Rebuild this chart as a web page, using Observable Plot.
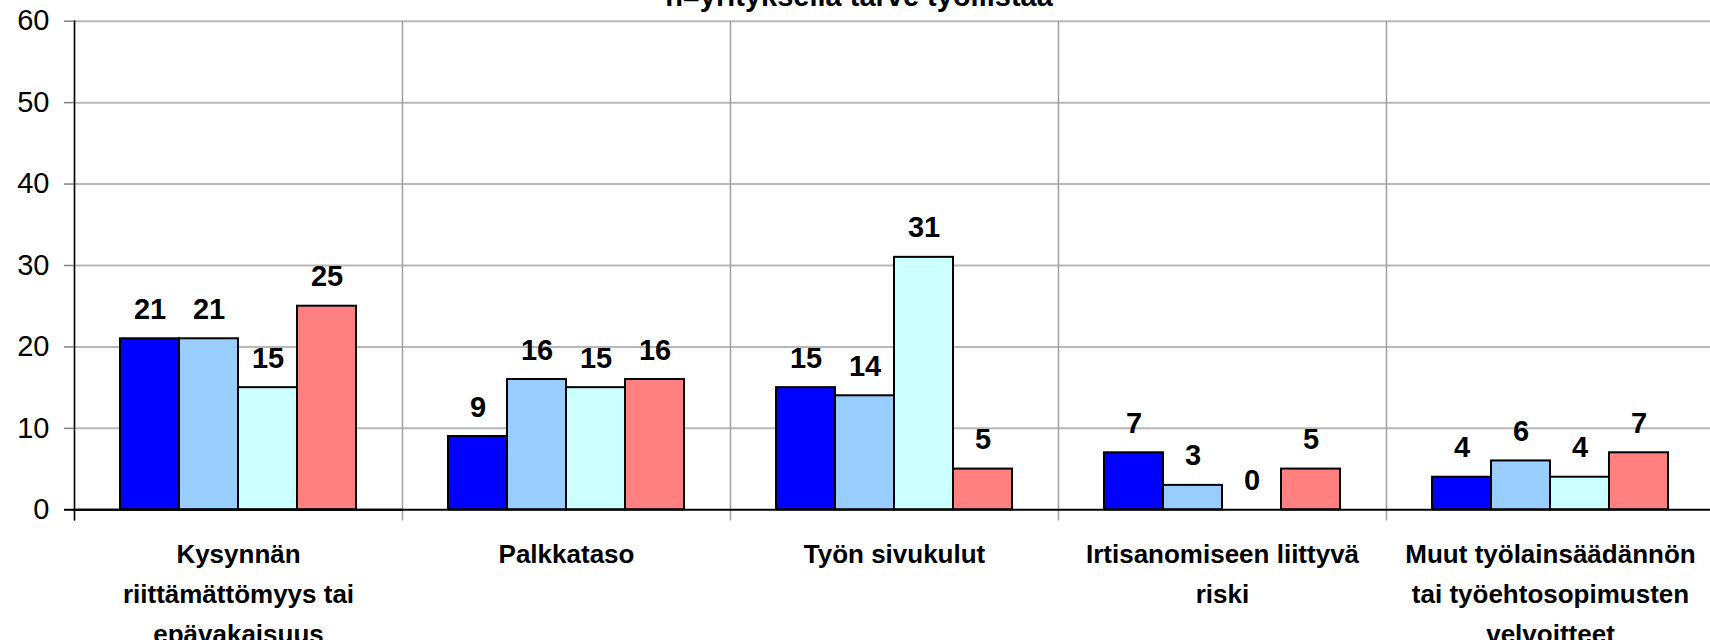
<!DOCTYPE html>
<html>
<head>
<meta charset="utf-8">
<script src="https://cdn.jsdelivr.net/npm/d3@7"></script>
<script src="https://cdn.jsdelivr.net/npm/@observablehq/plot@0.6"></script>
<style>
  html, body { margin: 0; padding: 0; background: #ffffff; overflow: hidden; }
  #wrap { position: relative; width: 1710px; height: 640px; }
  #title { position: absolute; left: 0; width: 1718px; top: -18px; text-align: center;
    font-family: "Liberation Sans", Arial, sans-serif; font-weight: bold; font-size: 29px; line-height: 29px; color: #000; }
  #chart { position: absolute; left: 0; top: 0; }
</style>
</head>
<body>
<div id="wrap">
  <div id="chart"></div>
  <div id="title">n=yrityksellä tarve työllistää</div>
</div>
<script>
const categories = [
  "Kysynnän\nriittämättömyys tai\nepävakaisuus",
  "Palkkataso",
  "Työn sivukulut",
  "Irtisanomiseen liittyvä\nriski",
  "Muut työlainsäädännön\ntai työehtosopimusten\nvelvoitteet"
];
const seriesNames = ["Sarja 1", "Sarja 2", "Sarja 3", "Sarja 4"];
const series1 = [21, 9, 15, 7, 4];
const series2 = [21, 16, 14, 3, 6];
const series3 = [15, 15, 31, 0, 4];
const series4 = [25, 16, 5, 5, 7];
const seriesColors = ["#0000FF", "#99CCFF", "#CCFFFF", "#FF8080"];
const yTicks = [0, 10, 20, 30, 40, 50, 60];

const allSeries = [series1, series2, series3, series4];
const data = [];
categories.forEach((c, i) => {
  allSeries.forEach((s, j) => {
    data.push({category: c, series: seriesNames[j], value: s[i]});
  });
});

const chart = Plot.plot({
  width: 1710,
  height: 640,
  marginLeft: 72,
  marginRight: -6,
  marginTop: 20.7,
  marginBottom: 130.7,
  style: {fontFamily: "'Liberation Sans', Arial, sans-serif", color: "#000", background: "#fff"},
  fx: {domain: categories, padding: 0},
  x: {domain: seriesNames, paddingInner: 0, paddingOuter: 0.742, axis: null},
  y: {domain: [0, 60], axis: null},
  color: {domain: seriesNames, range: seriesColors},
  marks: [
    Plot.gridY(yTicks.filter(d => d > 0), {stroke: "#b8b8b8", strokeOpacity: 1, strokeWidth: 2}),
    Plot.frame({anchor: "left", stroke: "#a0a0a0", strokeWidth: 1.5, insetBottom: -10}),
    Plot.frame({anchor: "left", facetAnchor: "left", stroke: "#000", strokeWidth: 1.5, insetBottom: -10}),
    Plot.axisY({ticks: yTicks, tickSize: 10, tickPadding: 15, fontSize: 29, stroke: "#808080", strokeWidth: 1.5, label: null}),
    Plot.barY(data, {fx: "category", x: "series", y: "value", fill: "series", stroke: "#000", strokeWidth: 2}),
    Plot.ruleY([0], {stroke: "#000", strokeWidth: 2}),
    Plot.ruleY([0], {facetAnchor: "left", stroke: "#000", strokeWidth: 2, insetLeft: -10}),
    Plot.text(data, {fx: "category", x: "series", y: "value", text: d => String(d.value),
      lineAnchor: "bottom", dy: -20, fontSize: 29, fontWeight: "bold", fill: "#000"}),
    Plot.axisFx({anchor: "bottom", tickSize: 0, tickPadding: 25, fontSize: 26, fontWeight: "bold",
      lineHeight: 1.53, label: null})
  ]
});
document.getElementById("chart").appendChild(chart);
</script>
</body>
</html>
